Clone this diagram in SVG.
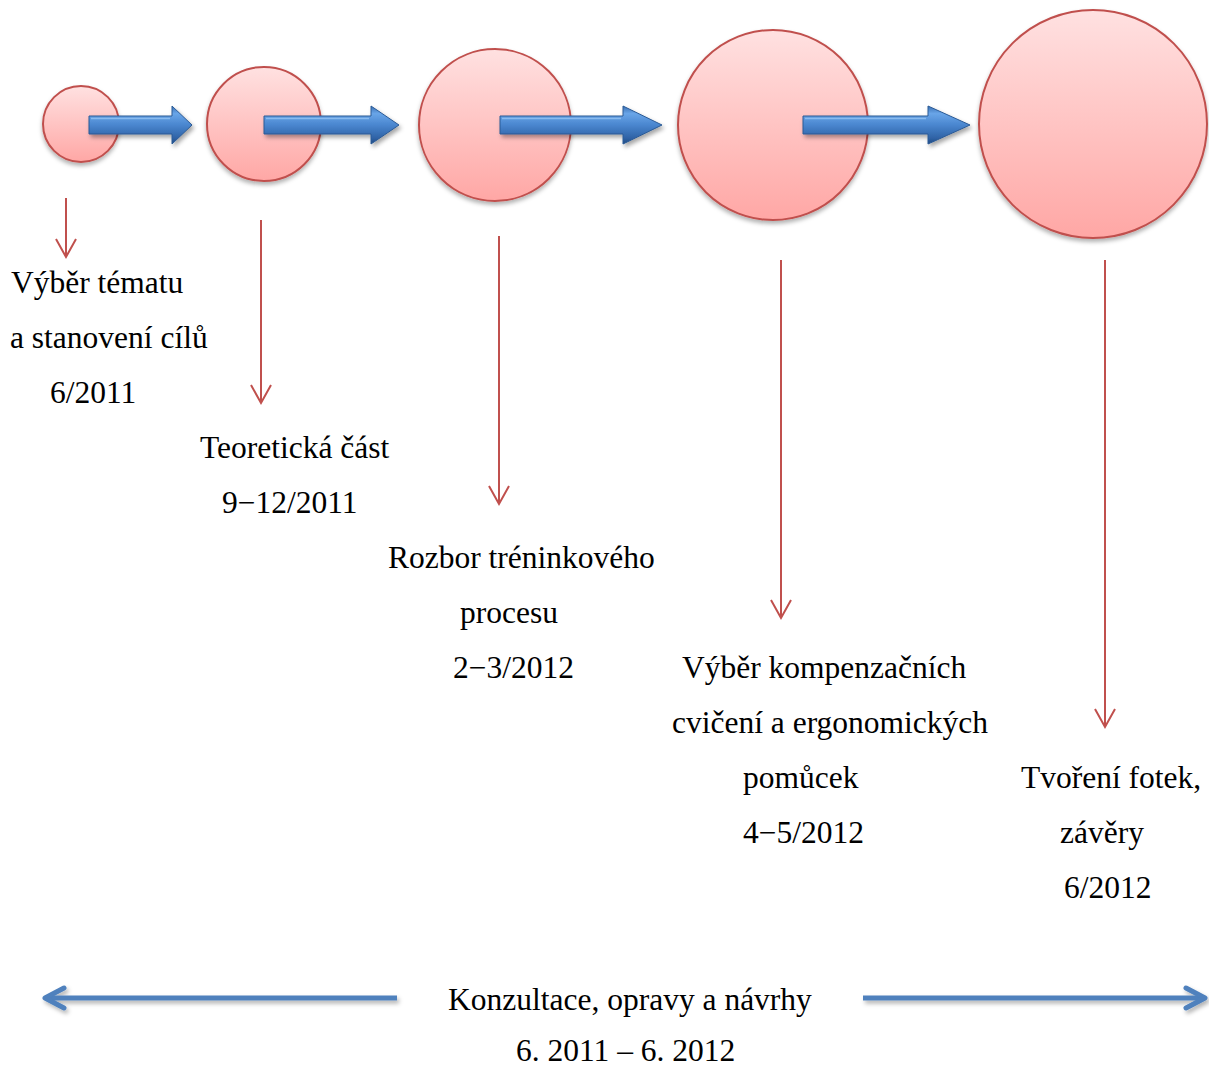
<svg xmlns="http://www.w3.org/2000/svg" width="1209" height="1068" viewBox="0 0 1209 1068">
<defs>
<linearGradient id="gCircle" x1="0" y1="0" x2="0" y2="1">
<stop offset="0" stop-color="#ffe1e1"/>
<stop offset="1" stop-color="#ffa7a5"/>
</linearGradient>
<linearGradient id="gBlock" x1="0" y1="0" x2="0" y2="1">
<stop offset="0" stop-color="#3a6fb3"/>
<stop offset="0.2" stop-color="#69a5e8"/>
<stop offset="0.5" stop-color="#4a86cf"/>
<stop offset="0.85" stop-color="#2f62a5"/>
<stop offset="1" stop-color="#214b82"/>
</linearGradient>
<filter id="shadow" x="-20%" y="-20%" width="140%" height="150%">
<feDropShadow dx="0" dy="3" stdDeviation="2" flood-color="#000" flood-opacity="0.3"/>
</filter>
<filter id="shadowB" x="-10%" y="-50%" width="120%" height="250%">
<feDropShadow dx="2" dy="3" stdDeviation="2" flood-color="#000" flood-opacity="0.35"/>
</filter>
<filter id="shadowL" filterUnits="userSpaceOnUse" x="0" y="970" width="1209" height="60">
<feDropShadow dx="2" dy="3" stdDeviation="2" flood-color="#000" flood-opacity="0.3"/>
</filter>
<marker id="redHead" viewBox="-20 -12 24 24" refX="0" refY="0" markerWidth="24" markerHeight="24" markerUnits="userSpaceOnUse" orient="auto">
<path d="M-18,-10 L0,0 L-18,10" fill="none" stroke="#c0504d" stroke-width="2"/>
</marker>
<marker id="blueHead" viewBox="-24 -14 28 28" refX="0" refY="0" markerWidth="28" markerHeight="28" markerUnits="userSpaceOnUse" orient="auto">
<path d="M-19,-10 L0,0 L-19,10" fill="none" stroke="#4f81bd" stroke-width="5" stroke-linecap="round" stroke-linejoin="round"/>
</marker>
</defs>
<style>
.circ{fill:url(#gCircle);stroke:#c0504d;stroke-width:2;filter:url(#shadow)}
.block{fill:url(#gBlock);stroke:#2b5a95;stroke-width:1;filter:url(#shadowB)}
.hl{fill:none;stroke:#9ccaf7;stroke-width:1.5;opacity:0.7}
.red{stroke:#c0504d;stroke-width:2;fill:none;marker-end:url(#redHead)}
.blue{stroke:#4f81bd;stroke-width:5;fill:none;marker-end:url(#blueHead)}
text{font-family:"Liberation Serif","Times New Roman",serif;font-size:31.5px;fill:#000}
</style>
<rect width="1209" height="1068" fill="#fff"/>

<g id="circle-1"><circle class="circ" cx="81" cy="124" r="38"/></g>
<g id="circle-2"><circle class="circ" cx="264" cy="124" r="57"/></g>
<g id="circle-3"><circle class="circ" cx="495" cy="125" r="76"/></g>
<g id="circle-4"><circle class="circ" cx="773" cy="125" r="95"/></g>
<g id="circle-5"><circle class="circ" cx="1093" cy="124" r="114"/></g>

<g id="connectors">
<path class="block" d="M89,116 L172,116 L172,106 L192,125 L172,144 L172,134 L89,134 Z"/>
<path class="hl" d="M91,118.5 L170,118.5"/>
<path class="block" d="M264,116 L371,116 L371,106 L399,125 L371,144 L371,134 L264,134 Z"/>
<path class="hl" d="M266,118.5 L369,118.5"/>
<path class="block" d="M500,116 L623,116 L623,106 L662,125 L623,144 L623,134 L500,134 Z"/>
<path class="hl" d="M502,118.5 L621,118.5"/>
<path class="block" d="M803,116 L928,116 L928,106 L970,125 L928,144 L928,134 L803,134 Z"/>
<path class="hl" d="M805,118.5 L926,118.5"/>

<line class="red" x1="66" y1="198" x2="66" y2="257"/>
<line class="red" x1="261" y1="220" x2="261" y2="403"/>
<line class="red" x1="499" y1="236" x2="499" y2="504"/>
<line class="red" x1="781" y1="260" x2="781" y2="618"/>
<line class="red" x1="1105" y1="260" x2="1105" y2="727"/>

<g filter="url(#shadowL)">
<line class="blue" x1="397" y1="998" x2="45" y2="998"/>
<line class="blue" x1="863" y1="998" x2="1205" y2="998"/>
</g>
</g>

<g id="label-1">
<text x="11" y="293">Výběr tématu</text>
<text x="10" y="348">a stanovení cílů</text>
<text x="50" y="403">6/2011</text>
</g>
<g id="label-2">
<text x="200" y="458">Teoretická část</text>
<text x="222" y="513">9−12/2011</text>
</g>
<g id="label-3">
<text x="388" y="568">Rozbor tréninkového</text>
<text x="460" y="623">procesu</text>
<text x="453" y="678">2−3/2012</text>
</g>
<g id="label-4">
<text x="682" y="678">Výběr kompenzačních</text>
<text x="672" y="733">cvičení a ergonomických</text>
<text x="743" y="788">pomůcek</text>
<text x="743" y="843">4−5/2012</text>
</g>
<g id="label-5">
<text x="1021" y="788">Tvoření fotek,</text>
<text x="1060" y="843">závěry</text>
<text x="1064" y="898">6/2012</text>
</g>
<g id="label-consult">
<text x="448" y="1010">Konzultace, opravy a návrhy</text>
<text x="516" y="1061">6. 2011 – 6. 2012</text>
</g>
</svg>
